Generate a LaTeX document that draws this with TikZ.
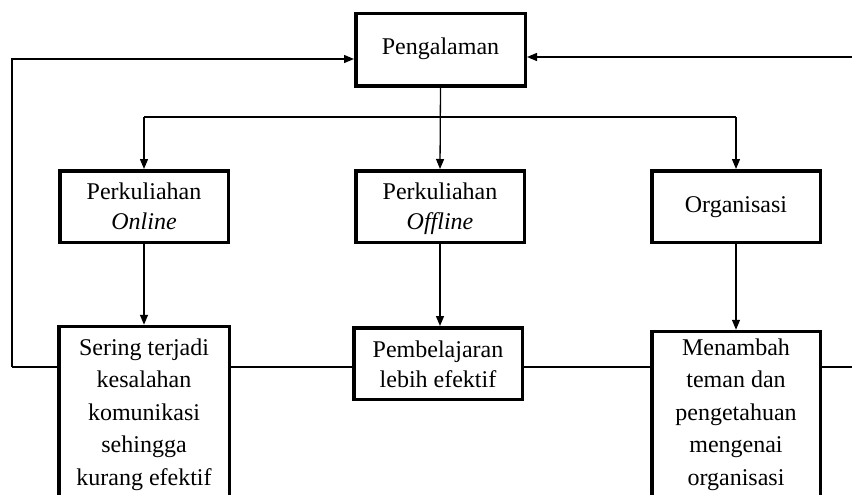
\documentclass[tikz,border=0pt]{standalone}
\usepackage{fontspec}
\setmainfont{Liberation Serif}
\usetikzlibrary{arrows.meta,backgrounds}
\begin{document}
\begin{tikzpicture}[x=1pt,y=-1pt,
  boxn/.style={draw=black,line width=3.5pt,fill=white,inner sep=0pt},
  txt/.style={align=center,inner sep=0pt,anchor=base,font=\fontsize{24}{29.5}\selectfont},
  tall/.style={font=\fontsize{24}{32.5}\selectfont},
  conn/.style={line width=1.3pt},
  arr/.style={conn,-{Triangle[length=10pt,width=8pt]}}]
\useasboundingbox (0,0) rectangle (852,495);
\clip (0,0) rectangle (852,495);
% top
\node[boxn,minimum width=169.5pt,minimum height=72.5pt] (peng) at (440.5,50) {};
\node[txt] (pengt) at (440.5,55) {Pengalaman};
% row 2
\node[boxn,minimum width=168.5pt,minimum height=71.5pt] (onl) at (144,206.5) {};
\node[txt] (onlt) at (144,229) {Perkuliahan\\\textit{Online}};
\node[boxn,minimum width=168.5pt,minimum height=71.5pt] (off) at (440,206.5) {};
\node[txt] (offt) at (440,229) {Perkuliahan\\\textit{Offline}};
\node[boxn,minimum width=168.5pt,minimum height=71.5pt] (org) at (736,206.5) {};
\node[txt] (orgt) at (736,212) {Organisasi};
% row 3
\node[boxn,minimum width=170.5pt,minimum height=200pt,anchor=north] (b1) at (144,324.75) {};
\node[txt,tall] (b1t) at (144,485) {Sering terjadi\\kesalahan\\komunikasi\\sehingga\\kurang efektif};
\node[boxn,minimum width=168.5pt,minimum height=71.5pt] (b2) at (438,363.5) {};
\node[txt] (b2t) at (438,387) {Pembelajaran\\lebih efektif};
\node[boxn,minimum width=168.5pt,minimum height=200pt,anchor=north] (b3) at (736,329.75) {};
\node[txt,tall] (b3t) at (736,485) {Menambah\\teman dan\\pengetahuan\\mengenai\\organisasi};
% coordinates
\coordinate (L) at (12,367);
\coordinate (R) at (860,367);
\coordinate (RT) at (860,57);
\coordinate (split) at (peng.south |- 0,117);
% connectors
\begin{scope}[on background layer]
\draw[conn] (L) -- (R);
\end{scope}
\draw[arr] (peng.south) -- (off.north);
\draw[arr] (onl.north |- split) -- (onl.north);
\draw[arr] (org.north |- split) -- (org.north);
\draw[conn] (onl.north |- split) -- (org.north |- split);
\draw[arr] (onl.south) -- (b1.north);
\draw[arr] (off.south) -- (b2.north -| off.south);
\draw[arr] (org.south) -- (b3.north -| org.south);
\draw[arr] (L) -- (L |- 0,59) -- (peng.west |- 0,59);
\draw[arr] (RT) -- (peng.east |- RT);
\end{tikzpicture}
\end{document}
